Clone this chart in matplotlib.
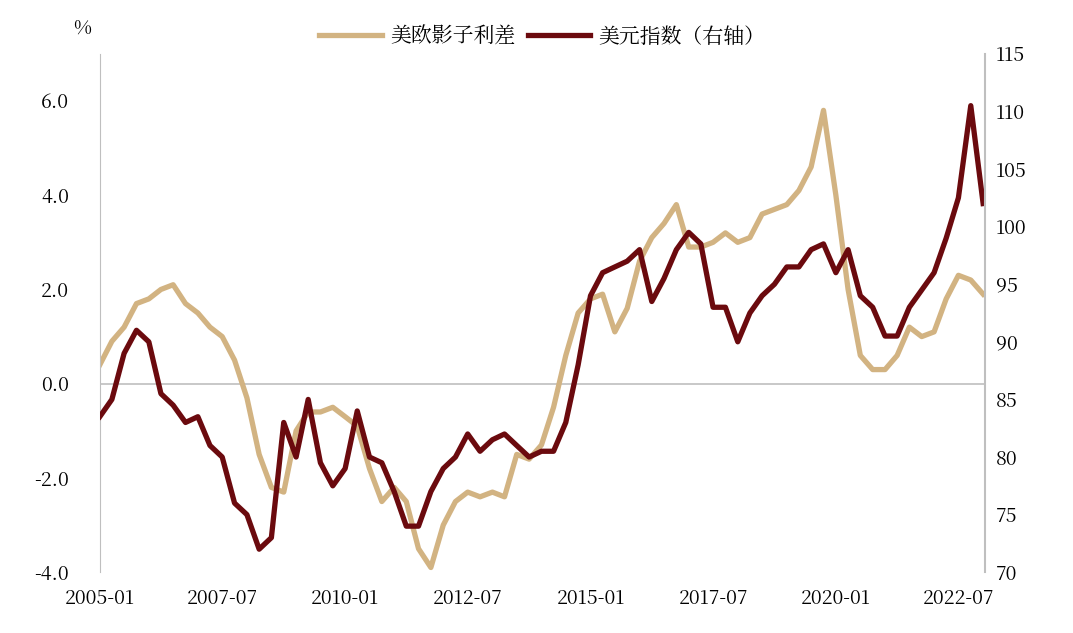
import matplotlib
matplotlib.use("Agg")
import matplotlib.pyplot as plt
from matplotlib import font_manager as fm
import pandas as pd

cjk = None
for f in fm.findSystemFonts():
    if "NotoSansCJK" in f.replace(" ", "") or "NotoSansSC" in f or "CJK" in f:
        cjk = f
        break
if cjk:
    fm.fontManager.addfont(cjk)
    cjk_name = fm.FontProperties(fname=cjk).get_name()
    plt.rcParams["font.family"] = [cjk_name, "DejaVu Sans"]

dates = pd.date_range("2005-01-01", "2023-01-01", freq="3MS")
spread = [0.4,0.9,1.2,1.7,1.8,2.0,2.1,1.7,1.5,1.2,1.0,0.5,-0.3,-1.5,-2.2,-2.3,-1.0,-0.6,-0.6,-0.5,
          -0.7,-0.9,-1.8,-2.5,-2.2,-2.5,-3.5,-3.9,-3.0,-2.5,-2.3,-2.4,-2.3,-2.4,-1.5,-1.6,-1.3,-0.5,0.6,1.5,
          1.8,1.9,1.1,1.6,2.6,3.1,3.4,3.8,2.9,2.9,3.0,3.2,3.0,3.1,3.6,3.7,3.8,4.1,4.6,5.8,
          4.0,2.0,0.6,0.3,0.3,0.6,1.2,1.0,1.1,1.8,2.3,2.2,1.9]
dxy = [83.5,85,89,91,90,85.5,84.5,83,83.5,81,80,76,75,72,73,83,80,85,79.5,77.5,
       79,84,80,79.5,77,74,74,77,79,80,82,80.5,81.5,82,81,80,80.5,80.5,83,88,
       94,96,96.5,97,98,93.5,95.5,98,99.5,98.5,93,93,90,92.5,94,95,96.5,96.5,98,98.5,
       96,98,94,93,90.5,90.5,93,94.5,96,99,102.5,110.5,102]
left_ticks = [-4, -2, 0, 2, 4, 6]
right_ticks = [70, 75, 80, 85, 90, 95, 100, 105, 110, 115]
x_ticks = pd.date_range("2005-01-01", "2022-07-01", freq="30MS")

tan = "#D2B382"
red = "#6B0A0E"
fig = plt.figure(figsize=(10.73, 6.33), dpi=100)
ax = fig.add_axes([0.093, 0.096, 0.825, 0.819])
ax2 = ax.twinx()
l1, = ax.plot(dates, spread, color=tan, lw=3.8, label="美欧影子利差")
l2, = ax2.plot(dates, dxy, color=red, lw=3.8, label="美元指数（右轴）")
ax.set_ylim(-4, 7)
ax2.set_ylim(70, 115)
ax.set_xlim(pd.Timestamp("2005-01-01"), pd.Timestamp("2023-01-15"))
ax.set_yticks(left_ticks)
ax.set_yticklabels([f"{v:.1f}" for v in left_ticks])
ax2.set_yticks(right_ticks)
ax.set_xticks(x_ticks)
ax.set_xticklabels([d.strftime("%Y-%m") for d in x_ticks])
ax.axhline(0, color="#BFBFBF", lw=1.2, zorder=0)
for a in (ax, ax2):
    for s in ["top", "bottom"]:
        a.spines[s].set_visible(False)
    a.tick_params(length=0, labelsize=14)
ax.tick_params(axis="y", pad=22)
ax.tick_params(axis="x", pad=12)
ax2.tick_params(axis="y", pad=8)
ax.spines["left"].set_color("#BFBFBF")
ax.spines["right"].set_visible(False)
ax2.spines["left"].set_visible(False)
ax2.spines["right"].set_color("#BFBFBF")
ax2.spines["right"].set_linewidth(1.5)
ax.text(-0.01, 1.03, "%", transform=ax.transAxes, fontsize=14, ha="right", va="bottom")
ax.legend(handles=[l1, l2], loc="upper center", bbox_to_anchor=(0.5, 1.09), ncol=2,
          frameon=False, fontsize=15, handlelength=3, columnspacing=0.6, handletextpad=0.4)
fig.savefig("out.png", dpi=100)
